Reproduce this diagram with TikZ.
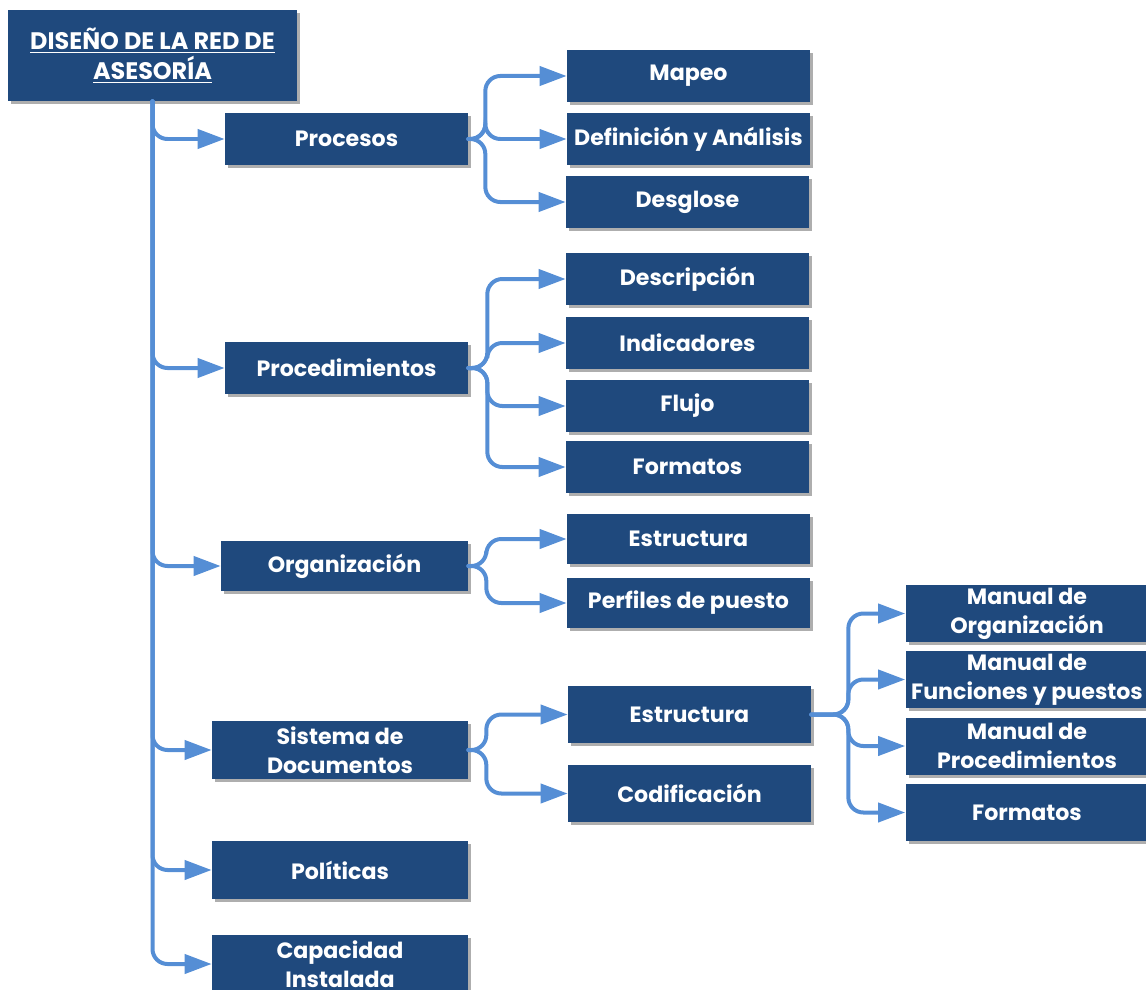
\documentclass[tikz,border=0pt]{standalone}
\usepackage{fontspec}
\setmainfont{Poppins}
\usepackage{tikz}
\usetikzlibrary{arrows.meta,shadows}
\usepackage{xcolor}
\definecolor{boxblue}{HTML}{1F497D}
\definecolor{linkblue}{HTML}{558ED5}

\begin{document}
\begin{tikzpicture}[x=0.02cm,y=-0.02cm,
  box/.style={fill=boxblue,text=white,font=\bfseries\fontsize{12.6}{16.4}\selectfont,align=center,
    minimum width=4.86cm,minimum height=1.04cm,inner sep=1pt,
    drop shadow={shadow xshift=0.06cm,shadow yshift=-0.06cm,fill=black!45,opacity=0.7}},
  wide/.style={minimum width=5.12cm,minimum height=1.16cm},
  tall/.style={minimum height=1.14cm},
  conn/.style={draw=linkblue,line width=0.08cm,line cap=round,rounded corners=0.3cm,
    -{Triangle[length=0.54cm,width=0.38cm]}}]
\useasboundingbox (0,0) rectangle (1146,990);
\node[box,minimum width=5.78cm,minimum height=1.82cm,font=\bfseries\fontsize{13.6}{17}\selectfont] (root) at (152.5,55.5)
  {\underline{DISEÑO DE LA RED DE}\\\underline{ASESORÍA}};
% procesos
\node[box] (procesos) at (346.5,139) {Procesos};
\node[box] (mapeo) at (688.5,76) {Mapeo};
\node[box] (defin) at (688.5,139) {Definición y Análisis};
\node[box] (desglose) at (687.5,202) {Desglose};
% procedimientos
\node[box] (proced) at (346.5,368) {Procedimientos};
\node[box] (descrip) at (687.5,279) {Descripción};
\node[box] (indic) at (687.5,343) {Indicadores};
\node[box] (flujo) at (687.5,406) {Flujo};
\node[box] (formatos) at (687.5,467) {Formatos};
% organizacion
\node[box,minimum width=4.94cm,minimum height=1cm] (organiz) at (344.5,566) {Organización};
\node[box,minimum height=1cm] (estruct) at (688.5,539) {Estructura};
\node[box,minimum height=1cm] (perfiles) at (688.5,603) {Perfiles de puesto};
% sistema de documentos
\node[box,wide] (sistema) at (340,750) {Sistema de\\Documentos};
\node[box,tall] (estructd) at (689.5,714.5) {Estructura};
\node[box,tall] (codif) at (689.5,793.5) {Codificación};
\node[box,tall] (manorg) at (1027,613.5) {Manual de\\Organización};
\node[box,tall] (manfun) at (1027,679.5) {Manual de\\Funciones y puestos};
\node[box,tall] (manproc) at (1027,746) {Manual de\\Procedimientos};
\node[box,tall] (formatosd) at (1027,812.5) {Formatos};
% resto
\node[box,wide] (politicas) at (340,870) {Políticas};
\node[box,wide] (capac) at (340,964) {Capacidad\\Instalada};

\foreach \n in {procesos,proced,organiz,sistema,politicas,capac}
  \draw[conn] (root.south) |- (\n.west);
\foreach \n in {mapeo,defin,desglose}
  \draw[conn] (procesos.east) -- ++(17,0) |- (\n.west);
\foreach \n in {descrip,indic,flujo,formatos}
  \draw[conn] (proced.east) -- ++(19,0) |- (\n.west);
\foreach \n in {estruct,perfiles}
  \draw[conn] (organiz.east) -- ++(18,0) |- (\n.west);
\foreach \n in {estructd,codif}
  \draw[conn] (sistema.east) -- ++(18,0) |- (\n.west);
\foreach \n in {manorg,manfun,manproc,formatosd}
  \draw[conn] (estructd.east) -- ++(37,0) |- (\n.west);
\end{tikzpicture}
\end{document}
